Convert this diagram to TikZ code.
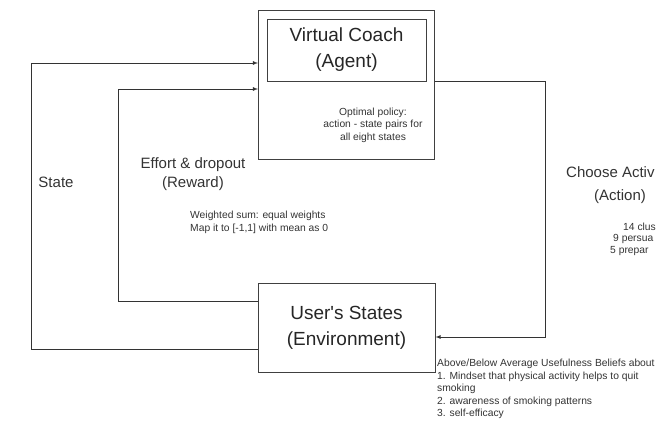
\documentclass[tikz,border=0pt]{standalone}
\usepackage{fontspec}
\setmainfont{Liberation Sans}
\usetikzlibrary{calc}

\tikzset{
  box/.style={draw=black!75, line width=0.9pt, inner sep=0pt},
  flow/.style={draw=black!80, line width=0.8pt, -latex},
  line/.style={draw=black!80, line width=0.8pt},
  bigtext/.style={text=black!85, align=center, font=\fontsize{19}{26}\selectfont},
  midtext/.style={text=black!80, align=center, font=\fontsize{15}{19}\selectfont},
  smalltext/.style={text=black!80, inner sep=0pt, font=\fontsize{10.3}{12.5}\selectfont}
}

\begin{document}
\begin{tikzpicture}[x=1pt, y=-1pt]
			%%%%% START %%%%%
			\useasboundingbox (0, 0) rectangle (658, 445);
			\clip (0, 0) rectangle (658, 445);
			
			% agent and environment boxes
			\node[box, minimum width=176, minimum height=149] (agent) at (346.5, 85) {};
			\node[box, minimum width=159, minimum height=62, bigtext] (coach) at (346.5, 50) {Virtual Coach\\(Agent)};
			\node[box, minimum width=177, minimum height=89, bigtext] (env) at (346.5, 327.5) {User\textquotesingle s States\\(Environment)};
			
			\node[smalltext, align=center] (policy) at (373, 125) {Optimal policy:\\action - state pairs for\\all eight states};
			
			% state loop
			\coordinate (statebot) at (31, 349);
			\coordinate (statetop) at (31, 63);
			\draw[flow] (env.west |- statebot) -- (statebot) -- (statetop) -- (agent.west |- statetop);
			\node[midtext] (state) at (56, 182) {State};
			
			% reward loop
			\coordinate (rewardbot) at (118, 301);
			\coordinate (rewardtop) at (118, 89);
			\draw[flow] (env.west |- rewardbot) -- (rewardbot) -- (rewardtop) -- (agent.west |- rewardtop);
			\node[midtext] (reward) at (193, 174) {Effort \& dropout\\(Reward)};
			\node[smalltext, align=left, anchor=north west] (sum) at (190, 211) {Weighted sum: equal weights\\Map it to [-1,1] with mean as 0};
			
			% action loop
			\coordinate (actionbot) at (545, 337);
			\draw[flow] (agent.east |- coach.south) -| (actionbot) -- (env.east |- actionbot);
			\node[midtext, anchor=west, inner sep=0pt] (choose) at (566, 172) {Choose Activ};
			\node[midtext] (action) at (620, 197) {(Action)};
			\node[smalltext, anchor=west] (clus) at (623, 226.5) {14 clus};
			\node[smalltext, anchor=west] (persua) at (613, 239) {9 persua};
			\node[smalltext, anchor=west] (prepar) at (610, 251.5) {5 prepar};
			
			% beliefs
			\node[smalltext, align=left, anchor=north west] (beliefs) at (437, 359) {Above/Below Average Usefulness Beliefs about\\1. Mindset that physical activity helps to quit\\smoking\\2. awareness of smoking patterns\\3. self-efficacy};
			
			%%%%% END %%%%%
\end{tikzpicture}
\end{document}
